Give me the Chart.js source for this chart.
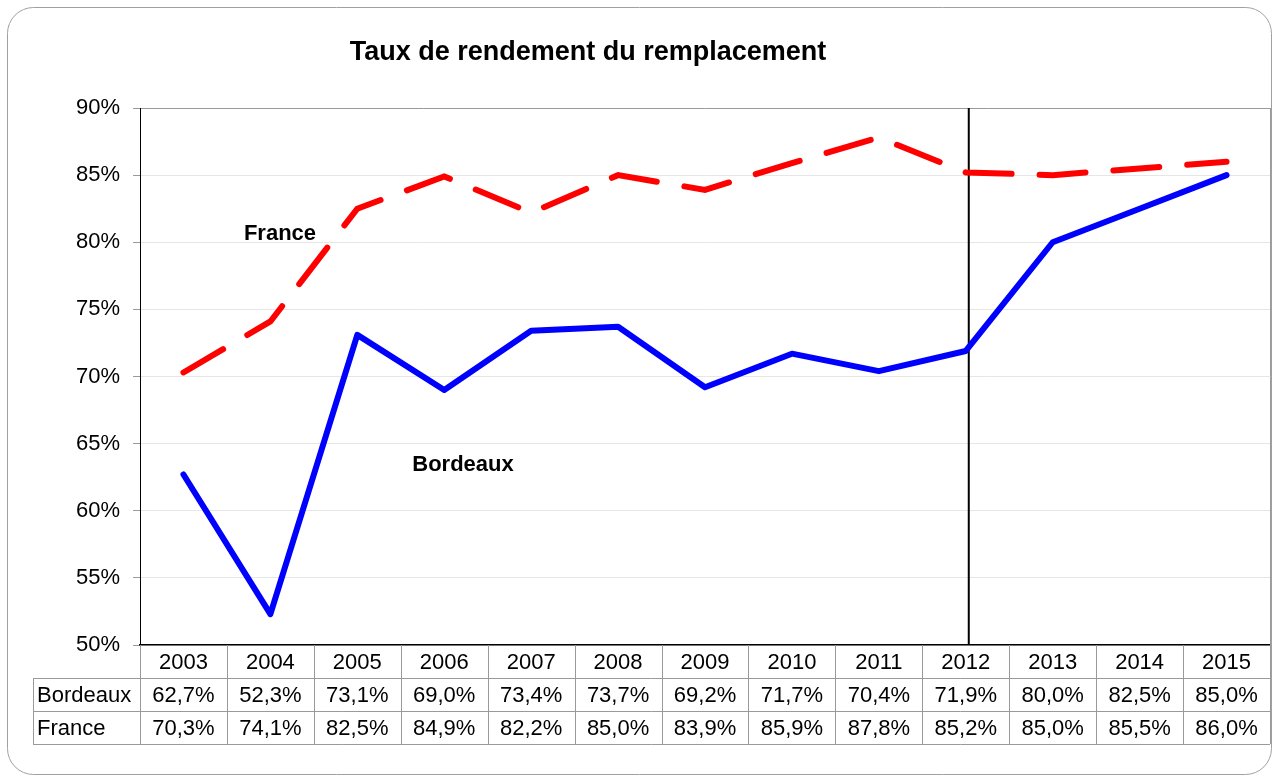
<!DOCTYPE html>
<html>
<head>
<meta charset="utf-8">
<script src="https://cdn.jsdelivr.net/npm/chart.js@4"></script>
<style>
  body { margin: 0; background: #fff; }
  canvas { display: block; }
</style>
</head>
<body>
<canvas id="rendementChart" width="1279" height="778"></canvas>
<script>
const years = ['2003', '2004', '2005', '2006', '2007', '2008', '2009', '2010', '2011', '2012', '2013', '2014', '2015'];
const bordeaux = [62.7, 52.3, 73.1, 69.0, 73.4, 73.7, 69.2, 71.7, 70.4, 71.9, 80.0, 82.5, 85.0];
const france = [70.3, 74.1, 82.5, 84.9, 82.2, 85.0, 83.9, 85.9, 87.8, 85.2, 85.0, 85.5, 86.0];
const markerYear = '2012';

const FONT = '"Liberation Sans", Arial, Helvetica, sans-serif';

function pct(v) {
    return v.toFixed(1).replace('.', ',') + '%';
}

// vertical line at 2012, drawn under the series
const markerLine = {
    id: 'markerLine',
    beforeDatasetsDraw(chart) {
        const ctx = chart.ctx;
        const x = chart.scales.x.getPixelForValue(years.indexOf(markerYear)) + 3;
        const area = chart.chartArea;
        ctx.save();
        ctx.strokeStyle = '#000';
        ctx.lineWidth = 2;
        ctx.beginPath();
        ctx.moveTo(x, area.top);
        ctx.lineTo(x, area.bottom);
        ctx.stroke();
        // right edge of plot
        ctx.strokeStyle = '#9a9a9a';
        ctx.lineWidth = 1;
        ctx.beginPath();
        ctx.moveTo(area.right + 0.5, area.top);
        ctx.lineTo(area.right + 0.5, area.bottom);
        ctx.stroke();
        ctx.restore();
    }
};

// title, series labels, data table, outer frame
const extras = {
    id: 'extras',
    afterDraw(chart) {
        const ctx = chart.ctx;
        const xs = chart.scales.x;
        const area = chart.chartArea;
        ctx.save();

        // frame
        ctx.strokeStyle = '#a0a0a0';
        ctx.lineWidth = 1;
        ctx.beginPath();
        ctx.roundRect(7.5, 7.5, 1264, 767, 26);
        ctx.stroke();

        // title
        ctx.fillStyle = '#000';
        ctx.textAlign = 'center';
        ctx.textBaseline = 'middle';
        ctx.font = 'bold 27px ' + FONT;
        ctx.fillText('Taux de rendement du remplacement', 588, 53);

        // series labels
        ctx.font = 'bold 22px ' + FONT;
        ctx.fillText('France', 280, 234);
        ctx.fillText('Bordeaux', 463, 465);

        // data table
        const colW = xs.width / years.length;
        const rowH = 33;
        const top = area.bottom;
        const labelLeft = 33;
        ctx.strokeStyle = '#9a9a9a';
        ctx.lineWidth = 1;
        ctx.beginPath();
        for (let r = 1; r <= 3; r++) {
            const y = Math.round(top + r * rowH) + 0.5;
            ctx.moveTo(labelLeft, y);
            ctx.lineTo(area.right, y);
        }
        ctx.moveTo(labelLeft + 0.5, top + rowH);
        ctx.lineTo(labelLeft + 0.5, top + 3 * rowH);
        for (let c = 0; c <= years.length; c++) {
            const x = Math.round(area.left + c * colW) + 0.5;
            ctx.moveTo(x, top);
            ctx.lineTo(x, top + 3 * rowH);
        }
        ctx.stroke();

        ctx.font = '22px ' + FONT;
        ctx.fillStyle = '#000';
        ctx.textAlign = 'center';
        years.forEach((yr, i) => {
            const cx = xs.getPixelForValue(i);
            ctx.fillText(yr, cx, top + rowH * 0.5 + 1);
            ctx.fillText(pct(bordeaux[i]), cx, top + rowH * 1.5 + 1);
            ctx.fillText(pct(france[i]), cx, top + rowH * 2.5 + 1);
        });
        ctx.textAlign = 'left';
        ctx.fillText('Bordeaux', labelLeft + 4, top + rowH * 1.5 + 1);
        ctx.fillText('France', labelLeft + 4, top + rowH * 2.5 + 1);

        ctx.restore();
    }
};

const ctx = document.getElementById('rendementChart').getContext('2d');
const rendementChart = new Chart(ctx, {
    type: 'line',
    data: {
        labels: years,
        datasets: [{
            label: 'France',
            data: france,
            borderColor: '#ff0000',
            borderWidth: 6,
            borderDash: [46, 28],
            borderCapStyle: 'round',
            pointRadius: 0,
            tension: 0
        }, {
            label: 'Bordeaux',
            data: bordeaux,
            borderColor: '#0000ff',
            borderWidth: 6,
            borderCapStyle: 'round',
            borderJoinStyle: 'round',
            pointRadius: 0,
            tension: 0
        }]
    },
    options: {
        responsive: false,
        animation: false,
        layout: {
            padding: { left: 0, right: 9, top: 108, bottom: 133 }
        },
        scales: {
            x: {
                offset: true,
                grid: { display: false, drawTicks: false },
                border: { color: '#000', width: 1.5 },
                ticks: { display: false },
                afterFit(scale) { scale.height = 0; }
            },
            y: {
                min: 50,
                max: 90,
                ticks: {
                    stepSize: 5,
                    color: '#000',
                    padding: 13,
                    font: { family: FONT, size: 22 },
                    callback: v => v + '%'
                },
                grid: {
                    color: c => c.tick && c.tick.value === 90 ? '#9a9a9a' : '#e6e6e6',
                    tickColor: '#9a9a9a',
                    tickLength: 7
                },
                border: { color: '#000', width: 1 },
                afterFit(scale) { scale.width = 140; }
            }
        },
        plugins: {
            legend: { display: false },
            tooltip: { enabled: false }
        }
    },
    plugins: [markerLine, extras]
});
</script>
</body>
</html>
